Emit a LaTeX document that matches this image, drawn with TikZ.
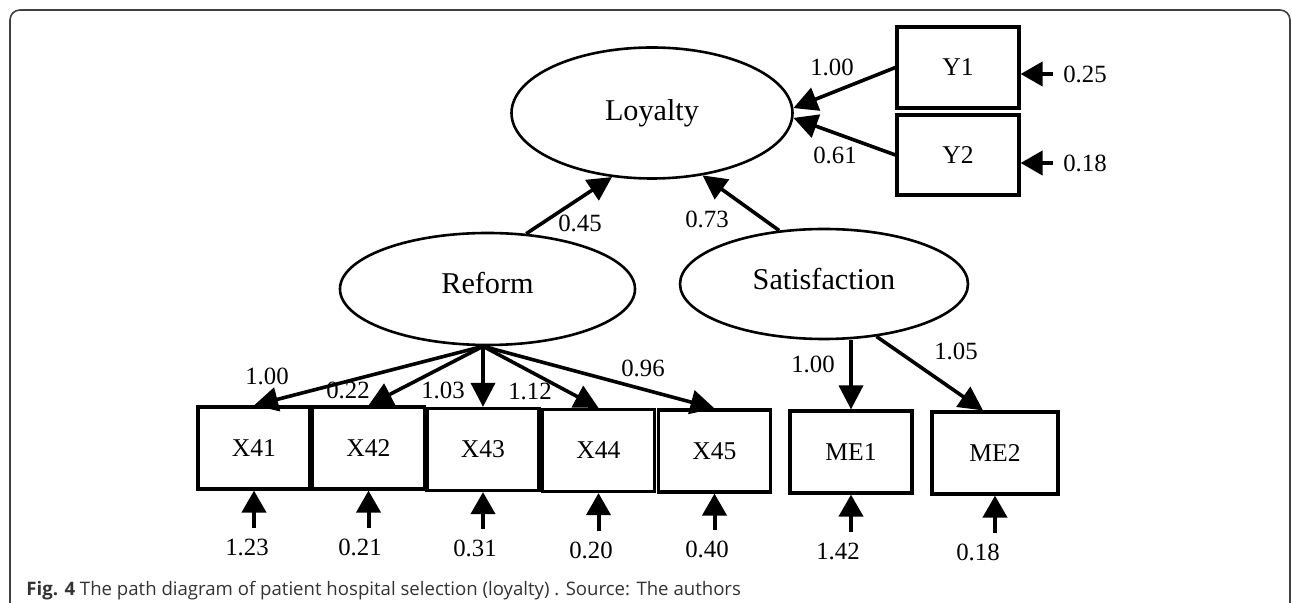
\documentclass[tikz,border=0pt]{standalone}
\usepackage{fontspec}
\setmainfont{Liberation Serif}
\newfontfamily\capfont{Open Sans}
\usetikzlibrary{shapes.geometric,arrows.meta,calc}

\tikzset{
  frame/.style={draw=black!75, line width=0.8pt, rounded corners=5pt},
  latent/.style={ellipse, draw, line width=1.3pt, inner sep=0pt,
    font=\fontsize{15.1}{17}\selectfont},
  obs/.style={rectangle, draw, line width=1.6pt, inner sep=0pt,
    minimum width=56pt, minimum height=41pt, font=\fontsize{12.8}{14}\selectfont},
  coef/.style={inner sep=1pt, font=\fontsize{12.4}{14}\selectfont},
  resid/.style={coef, inner sep=5pt},
  load/.style={-{Triangle[length=12pt,width=12pt]}, line width=1.8pt},
  err/.style={-{Triangle[length=11pt,width=12pt]}, line width=2pt}
}

\begin{document}
\begin{tikzpicture}[x=0.5pt,y=-0.5pt]
   \useasboundingbox (0,0) rectangle (1292,603);
   \draw[frame] (10,10) rectangle (1290,640);
   % latent variables
   \node[latent, minimum width=140.5pt, minimum height=65.5pt] (loy) at (652,113) {Loyalty};
   \node[latent, minimum width=147.5pt, minimum height=56pt] (ref) at (487.5,289) {\raisebox{6pt}{Reform}};
   \node[latent, minimum width=144pt, minimum height=55pt] (sat) at (824,284) {\raisebox{5pt}{Satisfaction}};
   % observed variables
   \node[obs, minimum width=61pt, minimum height=40.5pt] (y1) at (958,67.5) {Y1};
   \node[obs, minimum width=61pt, minimum height=40pt] (y2) at (958,155) {Y2};
   \node[obs] (x41) at (254,448) {X41};
   \node[obs] (x42) at (368.5,448) {X42};
   \node[obs] (x43) at (483,449.5) {X43};
   \node[obs] (x44) at (598.5,450.5) {X44};
   \node[obs] (x45) at (714.5,451) {X45};
   \node[obs, minimum width=61pt] (me1) at (851,452) {ME1};
   \node[obs, minimum width=63pt] (me2) at (995,453) {ME2};
   \coordinate (rf) at (ref.south -| x43);
   % coefficients
   \node[coef] (c-y1) at (832,67) {1.00};
   \node[coef] (c-y2) at (835,155) {0.61};
   \node[coef] (c-ref) at (580,223) {0.45};
   \node[coef] (c-sat) at (707,219) {0.73};
   \node[coef] (c-x41) at (267,376) {1.00};
   \node[coef] (c-x42) at (348,390) {0.22};
   \node[coef] (c-x43) at (443,390) {1.03};
   \node[coef] (c-x44) at (530,391) {1.12};
   \node[coef] (c-x45) at (643,368) {0.96};
   \node[coef] (c-me1) at (813,364) {1.00};
   \node[coef] (c-me2) at (956,351) {1.05};
   % error variances
   \node[resid] (e-y1) at (1085,74) {0.25};
   \node[resid] (e-y2) at (1085,163) {0.18};
   \node[resid] (e-x41) at (247,547) {1.23};
   \node[resid] (e-x42) at (360,547) {0.21};
   \node[resid] (e-x43) at (475,548) {0.31};
   \node[resid] (e-x44) at (591,550) {0.20};
   \node[resid] (e-x45) at (707,549) {0.40};
   \node[resid] (e-me1) at (838,551) {1.42};
   \node[resid] (e-me2) at (978,552) {0.18};
   % caption
   \node[anchor=base west, inner sep=0pt, text=black!80,
     font=\capfont\fontsize{9.3}{11}\selectfont] (cap) at (26,596)
     {\textbf{Fig. 4} The path diagram of patient hospital selection (loyalty) . Source: The authors};
   \path%
     (y1.west) edge[load] (loy.2) %Y1 to loyalty
     (y2.west) edge[load] (loy.-2) %Y2 to loyalty
     (ref.55) edge[load] (loy.-122) %reform to loyalty
     (sat.130) edge[load] (loy.-51) %satisfaction to loyalty
     (rf) edge[load] (x41.north) %reform to X41
     (rf) edge[load] (x42.north) %reform to X42
     (rf) edge[load] (x43.north) %reform to X43
     (rf) edge[load] (x44.north) %reform to X44
     (rf) edge[load] (x45.north) %reform to X45
     (sat.south -| me1) edge[load] (me1.north) %satisfaction to ME1
     (sat.-45) edge[load] ($(me2.north)+(-12,0)$); %satisfaction to ME2
   \path%
     (e-y1.west) edge[err] (y1.east |- e-y1.west)
     (e-y2.west) edge[err] (y2.east |- e-y2.west)
     (e-x41.north -| x41) edge[err] (x41.south)
     (e-x42.north -| x42) edge[err] (x42.south)
     (e-x43.north -| x43) edge[err] (x43.south)
     (e-x44.north -| x44) edge[err] (x44.south)
     (e-x45.north -| x45) edge[err] (x45.south)
     (e-me1.north -| me1) edge[err] (me1.south)
     (e-me2.north -| me2) edge[err] (me2.south);
\end{tikzpicture}
\end{document}
